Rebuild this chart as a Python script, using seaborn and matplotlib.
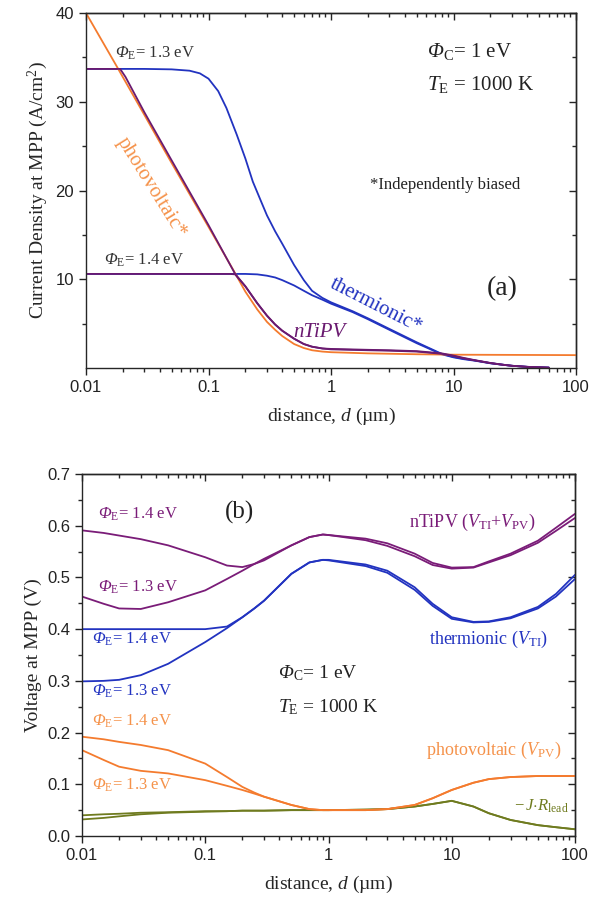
import matplotlib
matplotlib.use("Agg")
import matplotlib.pyplot as plt
import seaborn as sns

# ---- panel (a): current density at MPP (A/cm^2) vs distance (um) ----
d_pv_a = [0.01, 0.0178, 0.03, 0.05, 0.1, 0.16, 0.2, 0.25, 0.3, 0.35, 0.4, 0.5, 0.6, 0.7, 0.85, 1, 2, 5, 10, 100]
j_pv_a = [40.0, 34.0, 28.5, 23.1, 15.9, 11.0, 8.6, 6.6, 5.2, 4.3, 3.6, 2.7, 2.25, 2.0, 1.85, 1.78, 1.65, 1.55, 1.5, 1.45]

d_nt13_a = [0.01, 0.019, 0.021, 0.03, 0.05, 0.1, 0.165, 0.2, 0.25, 0.3, 0.35, 0.4, 0.5, 0.6, 0.7, 0.85, 1, 2, 3, 5, 8, 10, 12, 15, 20, 25, 30, 40, 50, 60]
j_nt13_a = [33.7, 33.7, 32.8, 28.8, 23.4, 16.1, 10.6, 9.2, 7.3, 5.9, 4.9, 4.2, 3.3, 2.7, 2.4, 2.2, 2.15, 2.05, 2.0, 1.9, 1.65, 1.4, 1.15, 0.88, 0.57, 0.38, 0.25, 0.13, 0.08, 0.04]

d_nt14_a = [0.01, 0.1, 0.15, 0.165, 0.2, 0.25, 0.3, 0.35, 0.4, 0.5, 0.6, 0.7, 0.85, 1, 2, 3, 5, 8, 10, 12, 15, 20, 25, 30, 40, 50, 60]
j_nt14_a = [10.6, 10.6, 10.6, 10.55, 9.2, 7.3, 5.9, 4.9, 4.2, 3.3, 2.7, 2.4, 2.2, 2.1, 2.0, 1.95, 1.85, 1.6, 1.35, 1.1, 0.85, 0.55, 0.37, 0.25, 0.13, 0.08, 0.04]

d_ti13_a = [0.01, 0.03, 0.05, 0.07, 0.085, 0.1, 0.12, 0.14, 0.17, 0.2, 0.23, 0.27, 0.3, 0.35, 0.4, 0.5, 0.6, 0.7, 0.85, 1, 1.5, 2, 3, 5, 8, 10, 12, 15, 20, 25, 30, 40, 50, 60]
j_ti13_a = [33.7, 33.7, 33.65, 33.5, 33.2, 32.6, 31.2, 29.3, 26.3, 23.6, 21.0, 18.7, 17.2, 15.4, 14.0, 11.6, 9.9, 8.7, 7.9, 7.4, 6.4, 5.6, 4.4, 2.9, 1.6, 1.25, 1.05, 0.85, 0.55, 0.38, 0.25, 0.13, 0.08, 0.04]

d_ti14_a = [0.01, 0.2, 0.25, 0.3, 0.35, 0.4, 0.5, 0.6, 0.7, 0.85, 1, 1.5, 2, 3, 5, 8, 10, 12, 15, 20, 25, 30, 40, 50, 60]
j_ti14_a = [10.6, 10.6, 10.55, 10.4, 10.2, 9.9, 9.3, 8.7, 8.2, 7.7, 7.25, 6.3, 5.5, 4.3, 2.8, 1.55, 1.2, 1.0, 0.82, 0.53, 0.37, 0.25, 0.13, 0.08, 0.04]

# ---- panel (b): voltage at MPP (V) vs distance (um) ----
d_b = [0.01, 0.015, 0.02, 0.03, 0.05, 0.1, 0.15, 0.2, 0.25, 0.3, 0.5, 0.7, 0.9, 1, 2, 3, 5, 7, 10, 15, 20, 30, 50, 70, 100]

v_nt14 = [0.591, 0.586, 0.581, 0.574, 0.562, 0.539, 0.523, 0.520, 0.526, 0.533, 0.562, 0.578, 0.583, 0.582, 0.575, 0.566, 0.546, 0.528, 0.519, 0.520, 0.531, 0.546, 0.571, 0.596, 0.623]
v_nt13 = [0.463, 0.449, 0.440, 0.439, 0.452, 0.475, 0.497, 0.513, 0.526, 0.536, 0.562, 0.578, 0.583, 0.582, 0.572, 0.561, 0.541, 0.524, 0.517, 0.519, 0.529, 0.543, 0.567, 0.590, 0.615]
v_ti14 = [0.400, 0.400, 0.400, 0.400, 0.400, 0.400, 0.405, 0.423, 0.440, 0.455, 0.507, 0.529, 0.534, 0.534, 0.525, 0.513, 0.481, 0.449, 0.423, 0.414, 0.415, 0.423, 0.443, 0.468, 0.505]
v_ti13 = [0.299, 0.300, 0.302, 0.311, 0.333, 0.375, 0.402, 0.423, 0.440, 0.455, 0.507, 0.529, 0.534, 0.533, 0.522, 0.509, 0.476, 0.445, 0.420, 0.413, 0.414, 0.421, 0.440, 0.463, 0.497]
v_pv14 = [0.192, 0.187, 0.182, 0.176, 0.166, 0.140, 0.114, 0.095, 0.084, 0.076, 0.060, 0.052, 0.050, 0.050, 0.050, 0.052, 0.060, 0.073, 0.089, 0.103, 0.110, 0.114, 0.116, 0.116, 0.116]
v_pv13 = [0.166, 0.147, 0.134, 0.126, 0.121, 0.108, 0.097, 0.089, 0.082, 0.076, 0.060, 0.052, 0.050, 0.050, 0.050, 0.052, 0.060, 0.073, 0.089, 0.103, 0.110, 0.114, 0.116, 0.116, 0.116]
v_jr14 = [0.040, 0.042, 0.043, 0.045, 0.046, 0.048, 0.048, 0.049, 0.049, 0.049, 0.050, 0.050, 0.050, 0.050, 0.051, 0.052, 0.057, 0.062, 0.068, 0.057, 0.044, 0.031, 0.021, 0.017, 0.013]
v_jr13 = [0.032, 0.035, 0.038, 0.042, 0.045, 0.047, 0.048, 0.049, 0.049, 0.049, 0.050, 0.050, 0.050, 0.050, 0.051, 0.052, 0.057, 0.062, 0.068, 0.057, 0.044, 0.031, 0.021, 0.017, 0.013]

BLUE = '#2233c0'
PURPLE = '#7a1c78'
PURPLE_A = '#6a1a70'
ORANGE = '#f47b2e'
ORANGE_TXT = '#f5924a'
OLIVE = '#6f7b1f'
SERIF = 'Liberation Serif'

sns.set_style("ticks")
plt.rcParams['font.family'] = ['Liberation Sans', 'DejaVu Sans']
plt.rcParams['mathtext.fontset'] = 'custom'
plt.rcParams['mathtext.rm'] = 'Liberation Serif'
plt.rcParams['mathtext.it'] = 'Liberation Serif:italic'
plt.rcParams['mathtext.bf'] = 'Liberation Serif:bold'
# italic capital Greek (mathtext forces \mathit Greek capitals upright)
plt.rcParams['mathtext.sf'] = 'Liberation Serif:italic'
plt.rcParams['axes.linewidth'] = 1.0

fig = plt.figure(figsize=(6.08, 9.06), dpi=100)
ax1 = fig.add_axes([86 / 608, 1 - 368 / 906, 490 / 608, 355 / 906])
ax2 = fig.add_axes([82 / 608, 1 - 836 / 906, 493 / 608, 362 / 906])


def curve(ax, x, y, color):
    sns.lineplot(x=x, y=y, ax=ax, color=color, lw=1.3, errorbar=None)


def style_axes(ax, ylim, yticks, yminor, ylabels):
    ax.set_xscale('log')
    ax.set_xlim(0.01, 100)
    ax.set_ylim(*ylim)
    ax.set_xticks([0.01, 0.1, 1, 10, 100])
    ax.set_xticklabels(['0.01', '0.1', '1', '10', '100'])
    ax.set_yticks(yticks)
    ax.set_yticklabels(ylabels)
    ax.set_yticks(yminor, minor=True)
    ax.tick_params(which='major', direction='out', length=5, width=1, labelsize=12, colors='#222222')
    ax.tick_params(which='minor', direction='out', length=3, width=1)
    top = ax.secondary_xaxis('top')
    top.set_xticks([0.01, 0.1, 1, 10, 100])
    top.tick_params(which='major', direction='in', length=5, width=1, labeltop=False)
    top.tick_params(which='minor', direction='in', length=3, width=1)
    right = ax.secondary_yaxis('right')
    right.set_yticks(yticks)
    right.set_yticks(yminor, minor=True)
    right.tick_params(which='major', direction='in', length=5, width=1, labelright=False)
    right.tick_params(which='minor', direction='in', length=3, width=1)
    ax.set_xlabel('distance, $d$ (µm)', fontfamily=SERIF, fontsize=14, labelpad=8)


PHI_E = r'$\mathsf{Φ}_{\mathrm{E}}$= '
PHI_C = r'$\mathsf{Φ}_{\mathrm{C}}$= 1 eV'
T_E = r'$T_{\mathrm{E}}$ = 1000 K'

# --- panel (a) ---
curve(ax1, d_ti13_a, j_ti13_a, BLUE)
curve(ax1, d_ti14_a, j_ti14_a, BLUE)
curve(ax1, d_pv_a, j_pv_a, ORANGE)
curve(ax1, d_nt13_a, j_nt13_a, PURPLE_A)
curve(ax1, d_nt14_a, j_nt14_a, PURPLE_A)
style_axes(ax1, (0, 40), [10, 20, 30, 40], [5, 15, 25, 35], ['10', '20', '30', '40'])
ax1.set_ylabel('Current Density at MPP (A/cm$^{2}$)', fontfamily=SERIF, fontsize=14, labelpad=4)

ax1.text(0.0174, 35.0, PHI_E + '1.3 eV', fontfamily=SERIF, fontsize=12, color='#333333')
ax1.text(0.0141, 11.6, PHI_E + '1.4 eV', fontfamily=SERIF, fontsize=12, color='#333333')
ax1.text(6.1, 35.0, PHI_C, fontfamily=SERIF, fontsize=15, color='#222222')
ax1.text(6.1, 31.3, T_E, fontfamily=SERIF, fontsize=15, color='#222222')
ax1.text(2.1, 20.6, '*Independently biased', fontfamily=SERIF, fontsize=12, color='#222222', va='center')
ax1.text(25, 8.9, '(a)', fontfamily=SERIF, fontsize=20, color='#222222', ha='center', va='center')
ax1.text(2.3, 7.0, 'thermionic*', fontfamily=SERIF, fontsize=15, color=BLUE, ha='center', va='center', rotation=-27)
ax1.text(0.8, 4.0, 'nTiPV', fontfamily=SERIF, fontsize=15, color=PURPLE_A, ha='center', va='center', style='italic')
ax1.text(0.034, 20.3, 'photovoltaic*', fontfamily=SERIF, fontsize=15, color=ORANGE_TXT, ha='center', va='center', rotation=-58)

# --- panel (b) ---
curve(ax2, d_b, v_jr14, OLIVE)
curve(ax2, d_b, v_jr13, OLIVE)
curve(ax2, d_b, v_pv14, ORANGE)
curve(ax2, d_b, v_pv13, ORANGE)
curve(ax2, d_b, v_ti14, BLUE)
curve(ax2, d_b, v_ti13, BLUE)
curve(ax2, d_b, v_nt14, PURPLE)
curve(ax2, d_b, v_nt13, PURPLE)
style_axes(ax2, (0, 0.7), [0, 0.1, 0.2, 0.3, 0.4, 0.5, 0.6, 0.7],
           [0.05, 0.15, 0.25, 0.35, 0.45, 0.55, 0.65],
           ['0.0', '0.1', '0.2', '0.3', '0.4', '0.5', '0.6', '0.7'])
ax2.set_ylabel('Voltage at MPP (V)', fontfamily=SERIF, fontsize=14, labelpad=4)

ax2.text(0.0134, 0.613, PHI_E + '1.4 eV', fontfamily=SERIF, fontsize=12, color=PURPLE)
ax2.text(0.0134, 0.472, PHI_E + '1.3 eV', fontfamily=SERIF, fontsize=12, color=PURPLE)
ax2.text(0.012, 0.372, PHI_E + '1.4 eV', fontfamily=SERIF, fontsize=12, color=BLUE)
ax2.text(0.012, 0.272, PHI_E + '1.3 eV', fontfamily=SERIF, fontsize=12, color=BLUE)
ax2.text(0.012, 0.214, PHI_E + '1.4 eV', fontfamily=SERIF, fontsize=12, color=ORANGE_TXT)
ax2.text(0.012, 0.089, PHI_E + '1.3 eV', fontfamily=SERIF, fontsize=12, color=ORANGE_TXT)
ax2.text(0.19, 0.626, '(b)', fontfamily=SERIF, fontsize=18, color='#222222', ha='center', va='center')
ax2.text(48, 0.597, r'nTiPV ($V_{\mathrm{TI}}$+$V_{\mathrm{PV}}$)', fontfamily=SERIF, fontsize=13, color=PURPLE, ha='right')
ax2.text(60, 0.372, r'thermionic ($V_{\mathrm{TI}}$)', fontfamily=SERIF, fontsize=13, color=BLUE, ha='right')
ax2.text(0.39, 0.304, PHI_C, fontfamily=SERIF, fontsize=14, color='#222222')
ax2.text(0.39, 0.240, T_E, fontfamily=SERIF, fontsize=14, color='#222222')
ax2.text(78, 0.156, r'photovoltaic ($V_{\mathrm{PV}}$)', fontfamily=SERIF, fontsize=13, color=ORANGE_TXT, ha='right')
ax2.text(89, 0.050, r'$-\,J{\cdot}R_{\mathrm{lead}}$', fontfamily=SERIF, fontsize=12, color=OLIVE, ha='right')

fig.savefig('out.png', dpi=100)
